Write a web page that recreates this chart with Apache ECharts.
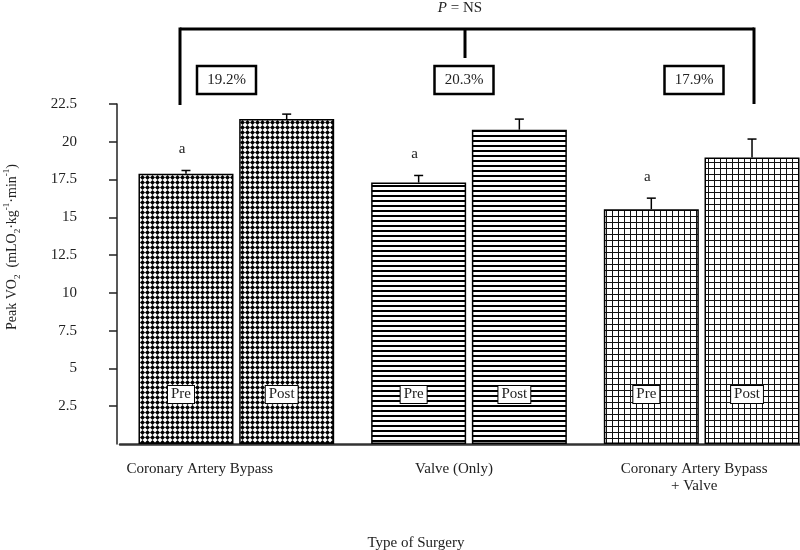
<!DOCTYPE html>
<html>
<head>
<meta charset="utf-8">
<script src="https://cdn.jsdelivr.net/npm/echarts@6/dist/echarts.min.js"></script>
<style>
  html, body { margin: 0; padding: 0; background: #fff; }
  #main { width: 800px; height: 550px; }
</style>
</head>
<body>
<div id="main"></div>
<script>
  // data
  var categories = ['Coronary Artery Bypass', 'Valve (Only)', 'Coronary Artery Bypass\n+ Valve']
  var preValues = [17.88, 17.3, 15.54]
  var preErrors = [0.22, 0.47, 0.73]
  var postValues = [21.5, 20.8, 18.96]
  var postErrors = [0.33, 0.7, 1.22]
  var preMarks = ['a', 'a', 'a']
  var changeLabels = ['19.2%', '20.3%', '17.9%']
  var yMin = 0
  var yMax = 22.5
  var yStep = 2.5

  var FONT = 'Liberation Serif'
  var TXT = '#222'

  // fill patterns, one per surgery type
  function makeTile(size, draw) {
    var c = document.createElement('canvas')
    c.width = size
    c.height = size
    var ctx = c.getContext('2d')
    ctx.fillStyle = '#fff'
    ctx.fillRect(0, 0, size, size)
    ctx.fillStyle = '#000'
    draw(ctx, size)
    return { image: c, repeat: 'repeat' }
  }
  var patterns = [
    makeTile(5, function (ctx) { // diamonds
      ctx.beginPath()
      ctx.moveTo(2.5, 0); ctx.lineTo(5, 2.5); ctx.lineTo(2.5, 5); ctx.lineTo(0, 2.5)
      ctx.closePath()
      ctx.fill()
    }),
    makeTile(5, function (ctx) { // horizontal lines
      ctx.fillRect(0, 0, 5, 2)
    }),
    makeTile(6, function (ctx) { // grid
      ctx.fillStyle = '#111'
      ctx.fillRect(0, 0, 6, 1)
      ctx.fillRect(0, 0, 1, 6)
    })
  ]

  var BAR_W = 95
  var BAR_GAP = 0.06
  var half = (BAR_W + BAR_W * BAR_GAP) / 2

  function barData(values) {
    return values.map(function (v, i) {
      return { value: v, itemStyle: { color: patterns[i] } }
    })
  }

  function errorRenderer(offset, marks) {
    return function (params, api) {
      var i = api.value(0)
      var v = api.value(1)
      var e = api.value(2)
      var base = api.coord([i, v])
      var top = api.coord([i, v + e])
      var x = base[0] + offset
      var st = { stroke: '#000', lineWidth: 1.5 }
      var kids = [
        { type: 'line', shape: { x1: x, y1: base[1], x2: x, y2: top[1] }, style: st },
        { type: 'line', shape: { x1: x - 4.5, y1: top[1], x2: x + 4.5, y2: top[1] }, style: st }
      ]
      if (marks) {
        kids.push({
          type: 'text',
          style: {
            text: marks[params.dataIndex], x: x - 4, y: top[1] - 21,
            align: 'center', verticalAlign: 'middle',
            font: '15px ' + FONT, fill: TXT
          }
        })
      }
      return { type: 'group', children: kids }
    }
  }

  function errData(values, errs) {
    return values.map(function (v, i) { return [i, v, errs[i]] })
  }

  var insideLabel = function (txt) {
    return {
      show: true,
      position: 'insideBottom',
      distance: 41,
      offset: [-5, 0],
      formatter: txt,
      fontFamily: FONT,
      fontSize: 15,
      lineHeight: 15,
      color: TXT,
      backgroundColor: '#fff',
      borderColor: '#000',
      borderWidth: 1,
      padding: [1, 3]
    }
  }

  var myChart = echarts.init(document.getElementById('main'))

  var option = {
    animation: false,
    backgroundColor: '#fff',
    textStyle: { fontFamily: FONT },
    grid: { left: 120, top: 104, width: 698, bottom: 106, outerBoundsMode: 'none', containLabel: false },
    xAxis: {
      type: 'category',
      data: categories,
      name: 'Type of Surgery',
      nameLocation: 'middle',
      nameGap: 92,
      nameTextStyle: { fontFamily: FONT, fontSize: 15, color: TXT, padding: [0, 106, 0, 0] },
      axisLine: { lineStyle: { color: '#333', width: 2.5 } },
      axisTick: { show: false },
      axisLabel: {
        interval: 0,
        margin: 17,
        fontFamily: FONT,
        fontSize: 15,
        lineHeight: 17,
        color: TXT,
        formatter: function (v, i) {
          return v.split('\n').map(function (l) { return '{c' + i + '|' + l + '}' }).join('\n')
        },
        rich: {
          c0: { fontFamily: FONT, fontSize: 15, lineHeight: 17, color: TXT, padding: [0, 73, 0, 0] },
          c1: { fontFamily: FONT, fontSize: 15, lineHeight: 17, color: TXT, padding: [0, 30, 0, 0] },
          c2: { fontFamily: FONT, fontSize: 15, lineHeight: 17, color: TXT, padding: [0, 15, 0, 0] }
        }
      }
    },
    yAxis: {
      type: 'value',
      min: yMin,
      max: yMax,
      interval: yStep,
      offset: 3,
      name: '{n|Peak VO}{sub|2}{n|  (mLO}{sub|2}{n|·kg}{sup|-1}{n|·min}{sup|-1}{n|)}',
      nameLocation: 'middle',
      nameRotate: 90,
      nameGap: 95,
      nameTextStyle: {
        padding: [0, 0, 0, 54],
        rich: {
          n: { fontFamily: FONT, fontSize: 14, lineHeight: 20, color: TXT },
          sub: { fontFamily: FONT, fontSize: 9, lineHeight: 9, color: TXT, verticalAlign: 'bottom' },
          sup: { fontFamily: FONT, fontSize: 9, lineHeight: 9, color: TXT, verticalAlign: 'top' }
        }
      },
      axisLine: { show: true, lineStyle: { color: '#222', width: 1.5 } },
      axisTick: { show: true, inside: false, length: 8, lineStyle: { color: '#222', width: 1.5 } },
      axisLabel: {
        margin: 40,
        showMinLabel: false,
        fontFamily: FONT,
        fontSize: 15,
        color: TXT
      },
      splitLine: { show: false }
    },
    series: [
      {
        name: 'Pre',
        type: 'bar',
        data: barData(preValues),
        barWidth: BAR_W,
        barGap: (BAR_GAP * 100) + '%',
        itemStyle: { borderColor: '#000', borderWidth: 1.5 },
        label: insideLabel('Pre')
      },
      {
        name: 'Post',
        type: 'bar',
        data: barData(postValues),
        barWidth: BAR_W,
        barGap: (BAR_GAP * 100) + '%',
        itemStyle: { borderColor: '#000', borderWidth: 1.5 },
        label: insideLabel('Post')
      },
      {
        type: 'custom',
        renderItem: errorRenderer(-half, preMarks),
        data: errData(preValues, preErrors),
        encode: { x: 0, y: 1 },
        z: 5
      },
      {
        type: 'custom',
        renderItem: errorRenderer(half, null),
        data: errData(postValues, postErrors),
        encode: { x: 0, y: 1 },
        z: 5
      }
    ],
    graphic: (function () {
      var line = { stroke: '#000', lineWidth: 3 }
      var g = [
        { type: 'line', shape: { x1: 180, y1: 29, x2: 754, y2: 29 }, style: line },
        { type: 'line', shape: { x1: 180, y1: 27.5, x2: 180, y2: 105 }, style: line },
        { type: 'line', shape: { x1: 465, y1: 29, x2: 465, y2: 58 }, style: line },
        { type: 'line', shape: { x1: 754, y1: 27.5, x2: 754, y2: 104 }, style: line },
        {
          type: 'text', x: 460, y: 8,
          style: {
            text: '{i|P}{n| = NS}', align: 'center', verticalAlign: 'middle',
            rich: {
              i: { fontFamily: FONT, fontSize: 15, fontStyle: 'italic', fill: TXT },
              n: { fontFamily: FONT, fontSize: 15, fill: TXT }
            }
          }
        }
      ]
      var boxX = [226.5, 464, 694]
      changeLabels.forEach(function (t, i) {
        g.push({
          type: 'rect',
          shape: { x: boxX[i] - 29.5, y: 66, width: 59, height: 28 },
          style: { fill: '#fff', stroke: '#000', lineWidth: 2.5 }
        })
        g.push({
          type: 'text', x: boxX[i], y: 80,
          style: { text: t, align: 'center', verticalAlign: 'middle', font: '15px ' + FONT, fill: TXT }
        })
      })
      return g
    })()
  }

  myChart.setOption(option)
</script>
</body>
</html>
